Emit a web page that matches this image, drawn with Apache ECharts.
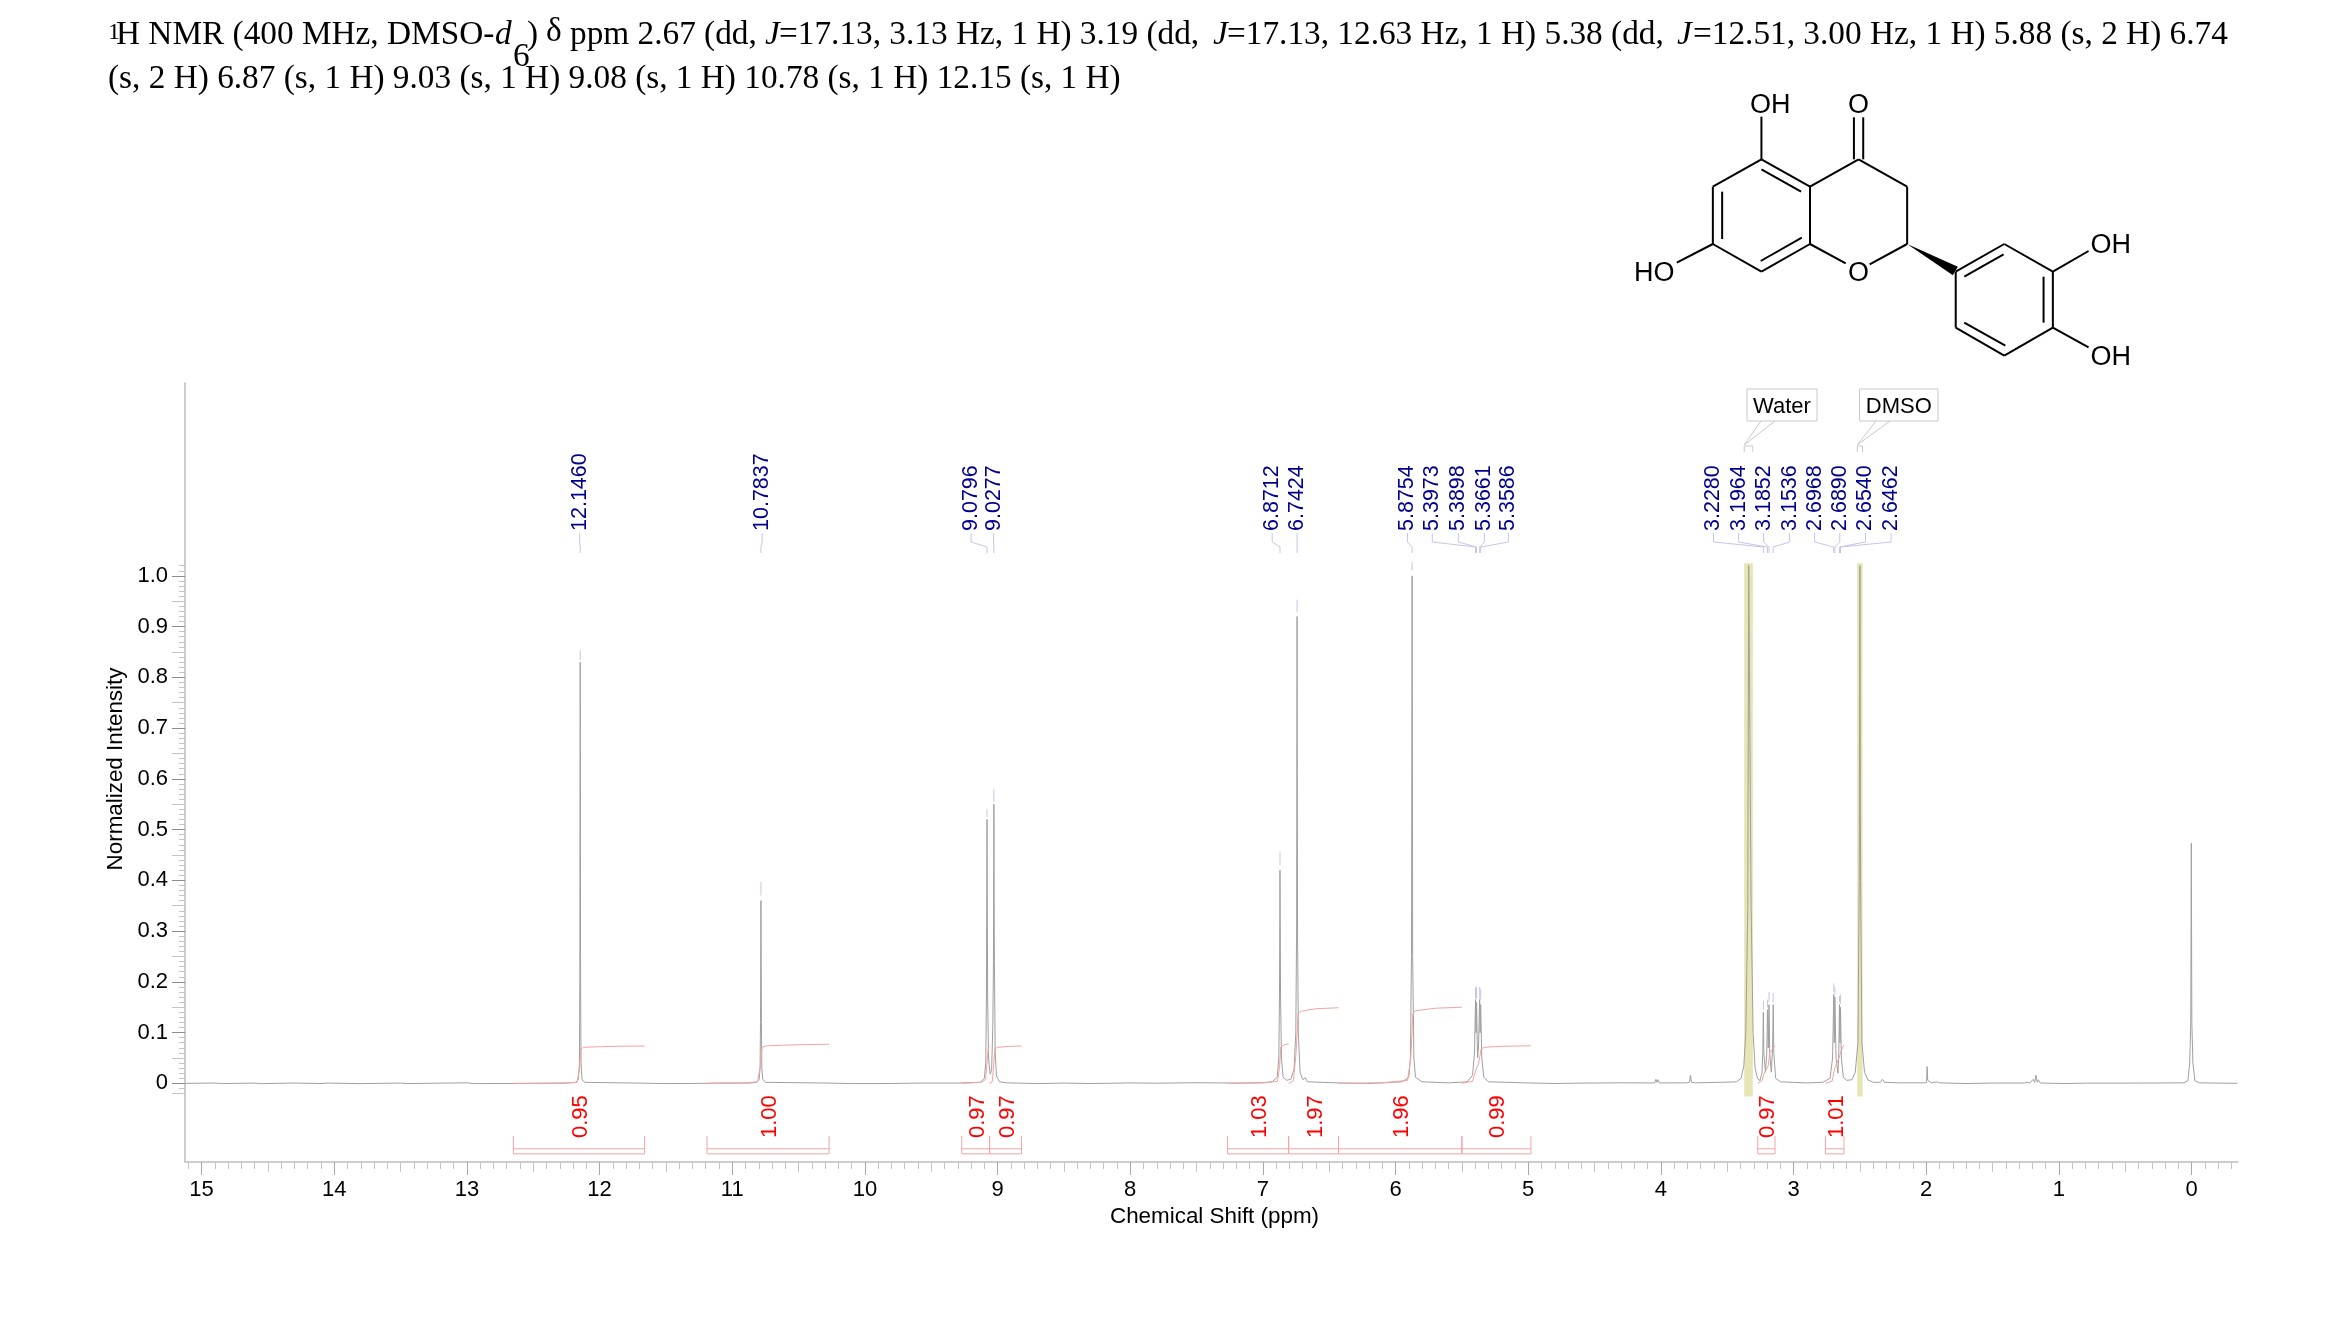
<!DOCTYPE html>
<html><head><meta charset="utf-8">
<style>html,body{margin:0;padding:0;background:#fff}#c{width:2339px;height:1327px}</style>
<script src="https://cdn.jsdelivr.net/npm/echarts@6/dist/echarts.min.js"></script>
</head><body><div id="c"></div>
<script>
// ---------- data ----------
const xMajorLabels = [15,14,13,12,11,10,9,8,7,6,5,4,3,2,1,0];
const yMajorLabels = [0,0.1,0.2,0.3,0.4,0.5,0.6,0.7,0.8,0.9,1.0];

// [ppm, normalized intensity]
const spectrum = [
 [15.12,0],[14.9,0.0006],[14.85,-0.0005],[14.6,0.0005],[14.55,-0.0006],[14.3,0.0006],[14.1,-0.0004],[14.05,0.0005],[13.8,-0.0006],[13.5,0.0006],[13.45,-0.0005],[13.2,0.0004],[13.0,0.001],[12.95,-0.0005],[12.6,-0.0003],[12.25,0.0004],
 [12.18,0.002],[12.16,0.007],[12.152,0.04],[12.149,0.2],[12.146,0.83],[12.143,0.2],[12.14,0.04],[12.132,0.007],[12.11,0.002],
 [11.7,0.0004],[11.5,-0.0005],[11.3,-0.0003],[11.1,0.0005],[10.87,0.0005],
 [10.815,0.002],[10.797,0.008],[10.79,0.03],[10.787,0.12],[10.7837,0.36],[10.78,0.12],[10.777,0.03],[10.77,0.008],[10.75,0.002],
 [10.3,0.0006],[10.1,-0.0005],[9.8,-0.0004],[9.6,0.0005],[9.3,0.0005],
 [9.13,0.002],[9.1,0.01],[9.089,0.04],[9.084,0.17],[9.0796,0.52],[9.075,0.17],[9.068,0.05],[9.056,0.018],
 [9.045,0.025],[9.036,0.11],[9.031,0.24],[9.0277,0.55],[9.024,0.24],[9.018,0.06],[9.008,0.014],[8.985,0.003],[8.93,0.001],
 [8.7,-0.0005],[8.5,0.0005],[8.3,-0.0004],[8.0,0.0008],[7.8,0.0003],[7.5,0.0012],[7.2,0.0005],[7.0,0.0012],
 [6.93,0.003],[6.892,0.012],[6.88,0.05],[6.875,0.17],[6.8712,0.42],[6.867,0.17],[6.86,0.05],[6.848,0.012],[6.82,0.006],[6.79,0.008],
 [6.765,0.028],[6.752,0.1],[6.746,0.3],[6.7424,0.92],[6.739,0.3],[6.733,0.1],[6.72,0.022],[6.70,0.007],[6.68,0.011],[6.665,0.003],
 [6.4,0.0006],[6.2,-0.0003],[6.1,0.001],[5.95,0.003],
 [5.9,0.012],[5.888,0.05],[5.88,0.25],[5.8754,1.0],[5.871,0.25],[5.862,0.05],[5.85,0.012],[5.8,0.003],
 [5.6,0.001],[5.46,0.003],[5.42,0.016],[5.405,0.06],[5.3973,0.165],[5.3935,0.1],[5.3898,0.16],[5.382,0.05],[5.375,0.07],
 [5.3661,0.165],[5.3625,0.1],[5.3586,0.155],[5.35,0.05],[5.335,0.012],[5.3,0.003],
 [5.0,0.0008],[4.8,-0.0004],[4.6,0.0005],[4.3,0.001],[4.07,0.0008],[4.057,0.002],[4.045,0.001],[4.037,0.008],[4.03,0.002],[4.022,0.007],[4.012,0.001],[4.0,0.003],[3.99,0.0008],
 [3.81,0.001],[3.785,0.002],[3.777,0.016],[3.769,0.002],[3.74,0.001],
 [3.55,0.002],[3.43,0.003],[3.395,0.01],[3.375,0.035],[3.36,0.1],[3.345,0.35],[3.338,1.02],[3.328,1.02],[3.32,0.35],[3.305,0.1],[3.29,0.03],[3.272,0.01],[3.255,0.005],
 [3.238,0.02],[3.232,0.06],[3.228,0.14],[3.224,0.06],[3.212,0.022],[3.202,0.06],[3.1964,0.145],[3.1908,0.07],[3.1852,0.155],[3.18,0.06],[3.168,0.022],
 [3.158,0.07],[3.1536,0.155],[3.149,0.06],[3.135,0.01],[3.10,0.003],[2.9,0.0008],[2.78,0.002],
 [2.725,0.01],[2.706,0.05],[2.6968,0.175],[2.693,0.08],[2.689,0.17],[2.68,0.05],[2.665,0.02],[2.659,0.06],[2.654,0.155],[2.65,0.08],[2.6462,0.15],[2.64,0.05],[2.625,0.012],[2.6,0.006],
 [2.56,0.007],[2.535,0.022],[2.515,0.08],[2.505,0.4],[2.5,1.02],[2.495,0.4],[2.485,0.08],[2.465,0.022],[2.44,0.007],[2.4,0.002],
 [2.345,0.002],[2.33,0.008],[2.315,0.002],[2.2,0.001],[2.0,0.001],[1.997,0.006],[1.993,0.033],[1.989,0.006],[1.96,0.001],[1.92,0.003],[1.9,0.001],
 [1.7,-0.0004],[1.5,0.0006],[1.26,0.0006],[1.238,0.002],[1.22,0.0006],[1.193,0.008],[1.183,0.002],[1.173,0.016],[1.164,0.002],[1.155,0.007],[1.14,0.0006],[0.95,-0.0004],[0.8,0.0004],[0.4,0.0005],[0.06,0.001],
 [0.028,0.005],[0.014,0.04],[0.006,0.12],[0.002,0.473],[-0.002,0.12],[-0.01,0.04],[-0.025,0.005],[-0.06,0.001],[-0.2,0.0005],[-0.345,0]
];

const peakPpm   = [12.146,10.7837,9.0796,9.0277,6.8712,6.7424,5.8754,5.3973,5.3898,5.3661,5.3586,3.228,3.1964,3.1852,3.1536,2.6968,2.689,2.654,2.6462];
const peakText  = ['12.1460','10.7837','9.0796','9.0277','6.8712','6.7424','5.8754','5.3973','5.3898','5.3661','5.3586','3.2280','3.1964','3.1852','3.1536','2.6968','2.6890','2.6540','2.6462'];
const peakSlot  = [12.15,10.775,9.20,9.03,6.93,6.742,5.91,5.723,5.527,5.331,5.15,3.603,3.414,3.226,3.03,2.841,2.652,2.458,2.265];
const peakDashHi= [0.853,0.397,0.54,0.58,0.455,0.953,1.027,0.19,0.19,0.19,0.185,0.163,0.165,0.18,0.178,0.197,0.19,0.172,0.175];
const peakDashLo= [0.835,0.37,0.525,0.555,0.43,0.928,1.01,0.167,0.167,0.167,0.165,0.145,0.15,0.16,0.16,0.18,0.175,0.16,0.157];

const integralFrom = [12.65,11.19,9.27,9.06,7.266,6.806,6.43,5.50,3.27,2.76];
const integralTo   = [11.66,10.27,9.06,8.82,6.806,6.43,5.50,4.98,3.14,2.62];
const integralText = ['0.95','1.00','0.97','0.97','1.03','1.97','1.96','0.99','0.97','1.01'];
const integralCurves = [
 [[12.65,0],[12.3,0.0005],[12.17,0.002],[12.15,0.03],[12.14,0.068],[12.12,0.071],[11.9,0.073],[11.66,0.0735]],
 [[11.19,0],[10.9,0.001],[10.81,0.003],[10.79,0.03],[10.775,0.071],[10.74,0.074],[10.5,0.076],[10.27,0.077]],
 [[9.27,0],[9.12,0.002],[9.09,0.008],[9.08,0.04],[9.07,0.07],[9.06,0.072]],
 [[9.06,0],[9.04,0.003],[9.03,0.035],[9.02,0.068],[9.0,0.071],[8.9,0.073],[8.82,0.0735]],
 [[7.266,0],[7.0,0.001],[6.89,0.004],[6.875,0.03],[6.865,0.072],[6.84,0.076],[6.806,0.078]],
 [[6.806,0],[6.77,0.005],[6.75,0.06],[6.735,0.138],[6.71,0.142],[6.6,0.147],[6.43,0.149]],
 [[6.43,0],[6.1,0.001],[5.91,0.006],[5.885,0.05],[5.87,0.137],[5.85,0.143],[5.7,0.148],[5.5,0.15]],
 [[5.50,0],[5.42,0.004],[5.39,0.03],[5.375,0.038],[5.355,0.068],[5.33,0.071],[5.2,0.073],[4.98,0.074]],
 [[3.27,0],[3.235,0.006],[3.225,0.018],[3.19,0.035],[3.18,0.06],[3.14,0.074]],
 [[2.76,0],[2.71,0.004],[2.69,0.03],[2.66,0.048],[2.64,0.065],[2.62,0.076]]
];

const solventNames = ['Water','DMSO'];
const solventHi = [3.372,2.52];
const solventLo = [3.307,2.48];

// ---------- layout ----------
const xMin=-0.35, xMax=15.125, yMin=-0.155, yMax=1.38;
const fontSans='"Liberation Sans",Arial,sans-serif', fontSerif='"Liberation Serif","Times New Roman",serif';
function steps(a,b,n,skip){const r=[];for(let i=a;i<=b;i++){if(skip&&skip(i))continue;r.push(i/n);}return r;}
const xMid=steps(0,30,2,i=>i%2===0);
const xMinor=steps(-3,151,10,i=>i%5===0);
const yMid=[-0.02,...steps(0,9,10).map(v=>v+0.05)];
const yMinor=steps(-1,102,100,i=>i%5===0||i===-2);
const axisBase={type:'value',inverse:true,min:xMin,max:xMax,position:'bottom',splitLine:{show:false}};
const yBase={type:'value',min:yMin,max:yMax,position:'left',splitLine:{show:false}};
const grid={left:185,right:101,top:383,bottom:165};
const textColor='#000';
function seg(x1,y1,x2,y2,color,w){return{type:'line',shape:{x1,y1,x2,y2},style:{stroke:color,lineWidth:w||1},silent:true};}

const peakSeries={type:'custom',name:'peakLabels',coordinateSystem:'cartesian2d',xAxisIndex:0,yAxisIndex:0,z:5,clip:false,
 data:peakPpm.map((p,i)=>[p,peakDashHi[i],peakDashLo[i],peakSlot[i],i]),encode:{x:0,y:1},
 renderItem(params,api){
  const px=api.coord([api.value(0),0])[0], sx=api.coord([api.value(3),0])[0];
  const hi=api.coord([0,api.value(1)])[1], lo=api.coord([0,api.value(2)])[1];
  const c='#c6c6e6';
  return{type:'group',children:[
   {type:'polyline',shape:{points:[[sx,533],[sx,542],[px,547],[px,553]]},style:{stroke:c,fill:null,lineWidth:1}},
   seg(px,hi,px,lo,'#c6c6e6',1),
   {type:'text',x:sx,y:531,rotation:Math.PI/2,style:{text:peakText[api.value(4)],fill:'#00008f',font:'21.5px '+fontSans,align:'left',verticalAlign:'middle'}}
  ]};
 }};

const bandSeries={type:'custom',name:'solvents',coordinateSystem:'cartesian2d',xAxisIndex:0,yAxisIndex:0,z:1,clip:false,
 data:solventHi.map((h,i)=>[h,solventLo[i],i]),encode:{x:[0,1]},
 renderItem(params,api){
  const a=api.coord([api.value(0),1.025]), b=api.coord([api.value(1),-0.026]);
  const i=api.value(2), name=solventNames[i];
  const bx=i===0?[1747,1817]:[1859.5,1938], lead=i===0?[1761,1775]:[1876,1890];
  const g='#c9c9c9';
  return{type:'group',children:[
   {type:'rect',shape:{x:a[0],y:a[1],width:b[0]-a[0],height:b[1]-a[1]},style:{fill:'#e6e5b4'}},
   {type:'rect',shape:{x:bx[0],y:389,width:bx[1]-bx[0],height:32},style:{fill:'#fff',stroke:g,lineWidth:1}},
   {type:'text',x:(bx[0]+bx[1])/2,y:407,style:{text:name,fill:textColor,font:'22px '+fontSans,align:'center',verticalAlign:'middle'}},
   seg(lead[0],421,a[0],445,g),seg(lead[1],421,a[0],445,g),
   {type:'polyline',shape:{points:[[a[0],452],[a[0],446],[b[0],446],[b[0],452]]},style:{stroke:g,fill:null,lineWidth:1}}
  ]};
 }};

const bracketSeries={type:'custom',name:'integrals',coordinateSystem:'cartesian2d',xAxisIndex:0,yAxisIndex:0,z:4,clip:false,
 data:integralFrom.map((f,i)=>[f,integralTo[i],i]),encode:{x:[0,1]},
 renderItem(params,api){
  const c='#f4a3a3';
  const x1=api.coord([api.value(0),0])[0],x2=api.coord([api.value(1),0])[0];
  const yT=api.coord([0,-0.104])[1],y1=api.coord([0,-0.129])[1],y2=api.coord([0,-0.139])[1];
  return{type:'group',children:[
   seg(x1,yT,x1,y2,c),seg(x2,yT,x2,y2,c),seg(x1,y1,x2,y1,c),seg(x1,y2,x2,y2,c),
   {type:'text',x:(x1+x2)/2+2,y:1138,rotation:Math.PI/2,style:{text:integralText[api.value(2)],fill:'#ff0000',font:'22px '+fontSans,align:'left',verticalAlign:'middle'}}
  ]};
 }};

const series=[
 bandSeries,
 {type:'line',name:'spectrum',data:spectrum,xAxisIndex:0,yAxisIndex:0,showSymbol:false,symbol:'none',z:3,animation:false,clip:true,lineStyle:{color:'#a0a0a0',width:1}},
 ...integralCurves.map((d,i)=>({type:'line',name:'integral'+i,data:d,xAxisIndex:0,yAxisIndex:0,showSymbol:false,symbol:'none',z:3,animation:false,lineStyle:{color:'#f4a3a3',width:1}})),
 bracketSeries,peakSeries
];

// title text pieces
const t1=[['1',108,33,'24px'],['H NMR (400 MHz, DMSO-',116,35],['d',495,35,null,'italic'],['6',513,57],[')',527,35],['δ',546,32],
 ['ppm 2.67 (dd, ',570,35],['J',765,35,null,'italic'],['=17.13, 3.13 Hz, 1 H) 3.19 (dd, ',779,35],['J',1213,35,null,'italic'],
 ['=17.13, 12.63 Hz, 1 H) 5.38 (dd, ',1227,35],['J',1677,35,null,'italic'],['=12.51, 3.00 Hz, 1 H) 5.88 (s, 2 H) 6.74',1693,35],
 ['(s, 2 H) 6.87 (s, 1 H) 9.03 (s, 1 H) 9.08 (s, 1 H) 10.78 (s, 1 H) 12.15 (s, 1 H)',108,79]];
const titleGraphics=t1.map(p=>({type:'text',x:p[1],y:p[2],silent:true,style:{text:p[0],fill:'#000',font:(p[4]?p[4]+' ':'')+(p[3]||'33.3px')+' '+fontSerif,verticalAlign:'middle',align:'left'}}));

// structure (drawn in reference zoom space, converted to px)
const sx=v=>1600+v/2.8, sy=v=>70+v/3;
const bonds=[[452,268,452,140],[452,268,588,350],[588,350,724,268],[724,268,860,350],[860,350,860,522],[860,522,755,583],[688,580,588,522],[588,522,588,350],[588,522,452,605],[452,605,316,522],[316,522,316,350],[316,350,452,268],[316,522,215,578],[711,268,711,142],[737,268,737,142],[452,298,563,365],[342,365,342,507],[450,573,565,503],
 [996,605,1132,522],[1132,522,1268,605],[1268,605,1268,773],[1268,773,1132,857],[1132,857,996,773],[996,773,996,605],[1268,605,1368,543],[1268,773,1368,832],[1020,620,1130,553],[1242,620,1242,758],[1020,758,1135,827]];
const atoms=[['OH',477,106],['O',724,106],['HO',152,611],['O',724,611],['OH',1430,528],['OH',1430,864]];
const structGraphics=[
 ...bonds.map(b=>({type:'line',silent:true,shape:{x1:sx(b[0]),y1:sy(b[1]),x2:sx(b[2]),y2:sy(b[3])},style:{stroke:'#000',lineWidth:2}})),
 {type:'polygon',silent:true,shape:{points:[[sx(860),sy(522)],[sx(1002),sy(590)],[sx(988),sy(616)]]},style:{fill:'#000'}},
 ...atoms.map(a=>({type:'text',silent:true,x:sx(a[1]),y:sy(a[2]),style:{text:a[0],fill:'#000',font:'27px '+fontSans,align:'center',verticalAlign:'middle'}}))
];

const noZero={show:false};
const chart=echarts.init(document.getElementById('c'),null,{renderer:'canvas'});
chart.setOption({
 animation:false,backgroundColor:'#fff',grid,
 xAxis:[
  {...axisBase,name:'Chemical Shift (ppm)',nameLocation:'middle',nameGap:44,nameTextStyle:{color:textColor,fontSize:22.4,fontFamily:fontSans,padding:[0,0,0,6]},
   axisLine:{show:true,onZero:false,lineStyle:{color:'#bdbdbd',width:1.5}},
   axisTick:{show:true,length:13,customValues:xMajorLabels,lineStyle:{color:'#a8a8a8'}},
   axisLabel:{show:true,margin:17,customValues:xMajorLabels,color:textColor,fontSize:22,fontFamily:fontSans,formatter:v=>String(v)}},
  {...axisBase,axisLine:{show:false,onZero:false},axisLabel:noZero,axisTick:{show:true,length:10,customValues:xMid,lineStyle:{color:'#c4c4c4'}}},
  {...axisBase,axisLine:{show:false,onZero:false},axisLabel:noZero,axisTick:{show:true,length:7,customValues:xMinor,lineStyle:{color:'#c4c4c4'}}}
 ],
 yAxis:[
  {...yBase,name:'Normalized Intensity',nameLocation:'middle',nameRotate:90,nameGap:58,
   nameTextStyle:{color:textColor,fontSize:22.4,fontFamily:fontSans,padding:[0,0,0,7]},
   axisLine:{show:true,onZero:false,lineStyle:{color:'#bdbdbd',width:1.5}},
   axisTick:{show:true,length:13,customValues:yMajorLabels,lineStyle:{color:'#8c8c8c'}},
   axisLabel:{show:true,margin:17,customValues:yMajorLabels,color:textColor,fontSize:22,fontFamily:fontSans,padding:[5,0,0,0],formatter:v=>v===0?'0':v.toFixed(1)}},
  {...yBase,axisLine:{show:false,onZero:false},axisLabel:noZero,axisTick:{show:true,length:13,customValues:yMid,lineStyle:{color:'#c4c4c4'}}},
  {...yBase,axisLine:{show:false,onZero:false},axisLabel:noZero,axisTick:{show:true,length:6,customValues:yMinor,lineStyle:{color:'#c4c4c4'}}}
 ],
 series,
 graphic:{elements:[...titleGraphics,...structGraphics]}
});
</script></body></html>
